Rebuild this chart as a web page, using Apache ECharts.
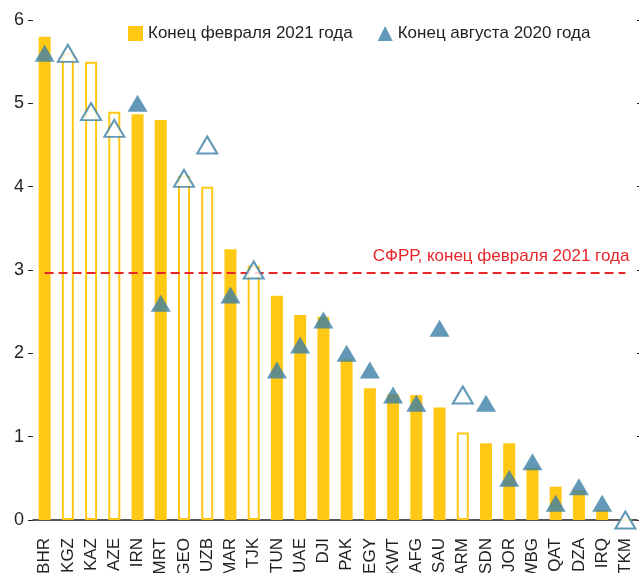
<!DOCTYPE html>
<html>
<head>
<meta charset="utf-8">
<script src="https://cdn.jsdelivr.net/npm/echarts@6/dist/echarts.min.js"></script>
<style>
  html, body { margin: 0; padding: 0; background: #fff; }
  #chart { width: 639px; height: 573px; }
</style>
</head>
<body>
<div id="chart"></div>
<script>
// data
var countries = ['BHR', 'KGZ', 'KAZ', 'AZE', 'IRN', 'MRT', 'GEO', 'UZB', 'MAR', 'TJK', 'TUN', 'UAE',
    'DJI', 'PAK', 'EGY', 'KWT', 'AFG', 'SAU', 'ARM', 'SDN', 'JOR', 'WBG', 'QAT', 'DZA', 'IRQ', 'TKM'];
var feb2021 = [5.8, 5.6, 5.5, 4.9, 4.87, 4.8, 4.13, 4.0, 3.25, 3.05, 2.69, 2.46,
    2.44, 1.93, 1.58, 1.51, 1.5, 1.35, 1.05, 0.92, 0.92, 0.63, 0.4, 0.36, 0.12, 0];
var aug2020 = [5.6, 5.6, 4.9, 4.7, 5.0, 2.6, 4.1, 4.5, 2.7, 3.0, 1.8, 2.1,
    2.4, 2.0, 1.8, 1.5, 1.4, 2.3, 1.5, 1.4, 0.5, 0.7, 0.2, 0.4, 0.2, 0];
// countries shown with hollow markers
var hollow = ['KGZ', 'KAZ', 'AZE', 'GEO', 'UZB', 'TJK', 'ARM', 'TKM'];
var sfrrLevel = 2.97;
var yTicks = [0, 1, 2, 3, 4, 5, 6];

var barName = 'Конец февраля 2021 года';
var markName = 'Конец августа 2020 года';
var lineText = 'СФРР, конец февраля 2021 года';

var yellow = '#ffc814';
var blue = '#3b7ea6';
var red = '#e8262a';
var ink = '#231f20';
var font = 'Liberation Sans, Arial, sans-serif';

function isHollow(i) {
    return hollow.indexOf(countries[i]) >= 0;
}

var barData = feb2021.map(function (v, i) {
    if (!isHollow(i)) return v;
    return { value: v, itemStyle: { color: '#fff', borderColor: yellow, borderWidth: 2 } };
});

var markData = aug2020.map(function (v, i) {
    if (!isHollow(i)) return v;
    return { value: v, itemStyle: { color: '#fff', borderColor: blue, borderWidth: 2 } };
});

var chart = echarts.init(document.getElementById('chart'));

var option = {
    animation: false,
    textStyle: { fontFamily: font },
    grid: { left: 33, right: 2, top: 20, bottom: 53, containLabel: false, outerBoundsMode: 'none' },
    legend: {
        left: 123,
        top: 20,
        itemWidth: 15,
        itemHeight: 15,
        itemGap: 25,
        textStyle: { fontSize: 17, color: ink, fontFamily: font },
        data: [
            { name: barName, icon: 'rect', itemStyle: { color: yellow } },
            { name: markName, icon: 'triangle', itemStyle: { color: blue } }
        ]
    },
    xAxis: {
        type: 'category',
        data: countries,
        axisLine: { lineStyle: { color: ink, width: 1.5 } },
        axisTick: { inside: true, length: 7, lineStyle: { color: ink } },
        axisLabel: { rotate: 90, fontSize: 17, color: ink, margin: 18 }
    },
    yAxis: [
        {
            type: 'value',
            min: yTicks[0],
            max: yTicks[yTicks.length - 1],
            interval: 1,
            splitLine: { show: false },
            axisLine: { show: false },
            axisTick: { show: true, length: 5, lineStyle: { color: ink } },
            axisLabel: { fontSize: 18, color: ink, margin: 9 }
        },
        {
            type: 'value',
            position: 'right',
            min: yTicks[0],
            max: yTicks[yTicks.length - 1],
            interval: 1,
            splitLine: { show: false },
            axisLine: { show: false },
            axisTick: { show: true, length: 4, lineStyle: { color: ink } },
            axisLabel: { show: false }
        }
    ],
    series: [
        {
            name: barName,
            type: 'bar',
            barWidth: 12,
            itemStyle: { color: yellow },
            data: barData,
            markLine: {
                silent: true,
                symbol: 'none',
                lineStyle: { color: red, type: [9, 5], width: 2 },
                label: {
                    position: 'insideEndTop',
                    formatter: lineText,
                    color: red,
                    fontSize: 17,
                    distance: [-4, 8]
                },
                data: [[
                    { coord: [countries[0], sfrrLevel] },
                    { coord: [countries[countries.length - 1], sfrrLevel] }
                ]]
            }
        },
        {
            name: markName,
            type: 'scatter',
            symbol: 'triangle',
            symbolSize: [20, 17],
            itemStyle: { color: blue },
            data: markData,
            z: 5
        }
    ]
};

chart.setOption(option);
</script>
</body>
</html>
